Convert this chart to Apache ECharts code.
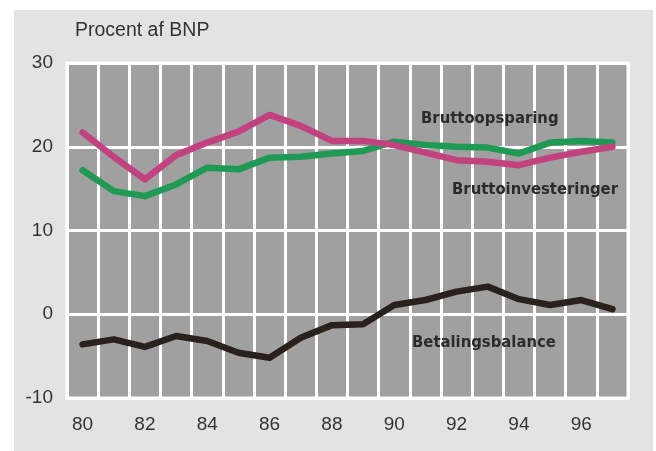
<!DOCTYPE html>
<html>
<head>
<meta charset="utf-8">
<script src="https://cdn.jsdelivr.net/npm/echarts@6/dist/echarts.min.js"></script>
<style>
  html, body { margin: 0; padding: 0; background: #fff; }
  #chart { width: 656px; height: 451px; }
</style>
</head>
<body>
<div id="chart"></div>
<script>
// år (1980-1997)
const years = ["80", "81", "82", "83", "84", "85", "86", "87", "88", "89",
  "90", "91", "92", "93", "94", "95", "96", "97"];
// procent af BNP
const bruttoopsparing = [17.2, 14.7, 14.1, 15.5, 17.5, 17.3, 18.7, 18.8, 19.2, 19.5,
  20.6, 20.2, 20.0, 19.9, 19.2, 20.5, 20.7, 20.5];
const bruttoinvesteringer = [21.7, 18.8, 16.1, 19.0, 20.5, 21.8, 23.8, 22.5, 20.7, 20.7,
  20.2, 19.3, 18.4, 18.2, 17.8, 18.7, 19.4, 20.0];
const betalingsbalance = [-3.6, -3.0, -3.9, -2.6, -3.2, -4.6, -5.2, -2.8, -1.3, -1.2,
  1.1, 1.7, 2.7, 3.3, 1.8, 1.1, 1.7, 0.6];
const yTicks = [-10, 0, 10, 20, 30];

const font = "'Liberation Sans', Arial, sans-serif";
const labelFont = "'DejaVu Sans Condensed', 'Liberation Sans Narrow', sans-serif";

let myChart = echarts.init(document.getElementById("chart"));

function seriesLine(name, data, color, width) {
  return {
    name: name,
    type: "line",
    data: data,
    symbol: "none",
    smooth: false,
    lineStyle: { color: color, width: width, cap: "round", join: "round" },
  };
}

function seriesLabel(text, left, top) {
  return {
    type: "text",
    left: left, top: top,
    z: 100,
    style: { text: text, font: "bold 16.5px " + labelFont, fill: "#2b2b2b" },
  };
}

myChart.setOption({
  animation: false,
  backgroundColor: "transparent",
  graphic: [
    {
      type: "rect",
      z: -10,
      shape: { x: 14, y: 10, width: 639, height: 441 },
      style: { fill: "#e3e3e3" },
    },
    {
      type: "text",
      left: 75, top: 21,
      style: { text: "Procent af BNP", font: "19.5px " + font, fill: "#333" },
    },
    seriesLabel("Bruttoopsparing", 421, 110),
    seriesLabel("Bruttoinvesteringer", 452, 181),
    seriesLabel("Betalingsbalance", 412, 334),
  ],
  grid: {
    left: 67, top: 63, right: 28, bottom: 53,
    show: true,
    backgroundColor: "#a0a0a0",
    borderColor: "#ffffff",
    borderWidth: 3,
  },
  xAxis: {
    type: "category",
    data: years,
    boundaryGap: true,
    axisLine: { show: false },
    axisTick: { show: false },
    axisLabel: { interval: 1, color: "#333", fontSize: 19, fontFamily: font, margin: 17 },
    splitLine: { show: true, interval: 0, lineStyle: { color: "#ffffff", width: 3 } },
  },
  yAxis: {
    type: "value",
    min: yTicks[0],
    max: yTicks[yTicks.length - 1],
    interval: 10,
    axisLine: { show: false },
    axisTick: { show: false },
    axisLabel: { color: "#333", fontSize: 19, fontFamily: font, margin: 14 },
    splitLine: { show: true, lineStyle: { color: "#ffffff", width: 3 } },
  },
  series: [
    seriesLine("Bruttoopsparing", bruttoopsparing, "#1f9a55", 6.5),
    seriesLine("Bruttoinvesteringer", bruttoinvesteringer, "#c2417f", 6.5),
    seriesLine("Betalingsbalance", betalingsbalance, "#2a211c", 6.5),
  ],
});
</script>
</body>
</html>
